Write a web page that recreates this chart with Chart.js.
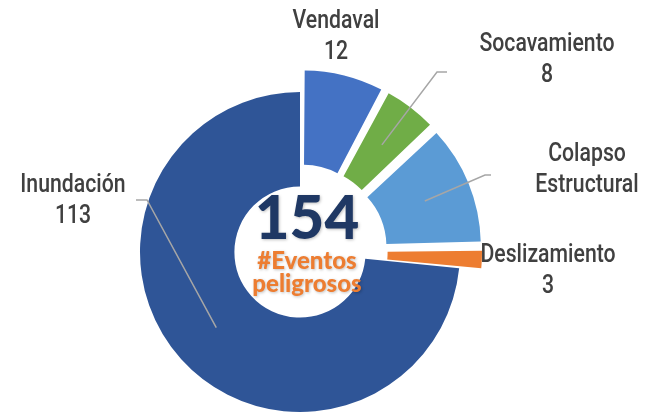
<!DOCTYPE html>
<html>
<head>
<meta charset="utf-8">
<script src="https://cdn.jsdelivr.net/npm/chart.js@4.4.1/dist/chart.umd.min.js"></script>
<style>
  body { margin: 0; background: #fff; }
  #wrap { width: 645px; height: 418px; }
</style>
</head>
<body>
<div id="wrap"><canvas id="graficoDona" width="645" height="418"></canvas></div>
<script>
// datos del grafico (orden horario desde las 12)
const categorias = ['Vendaval', 'Socavamiento', 'Colapso Estructural', 'Deslizamiento', 'Inundación']
const eventos = [12, 8, 18, 3, 113]
const colores = ['#4472C4', '#70AD47', '#5B9BD5', '#ED7D31', '#2F5597']
const totalEventos = 154
const textoCentro = ['#Eventos', 'peligrosos']

// separacion (px) de cada porcion
const separacion = [22, 22, 22, 22, 0]

// posicion de cada etiqueta respecto al centro del anillo
const etiquetasPos = [
  { lineas: ['Vendaval', '12'], x: 36, y: -230, linea: null },
  { lineas: ['Socavamiento', '8'], x: 247, y: -207, linea: [[137, -180], [147, -180]] },
  { lineas: ['Colapso', 'Estructural'], x: 287, y: -97, linea: [[185, -77], [191, -77]] },
  { lineas: ['Deslizamiento', '3'], x: 248, y: 4, linea: null },
  { lineas: ['Inundación', '113'], x: -227, y: -66, linea: [[-153, -52], [-164, -52]] }
]

// chart.js dibuja el offset como offset/4 * (2 - sin(angulo)), se invierte aqui
const suma = eventos.reduce((a, b) => a + b, 0)
const offsets = eventos.map((v, i) => {
  const c = v / suma * 2 * Math.PI
  return separacion[i] * 4 / (2 - Math.sin(Math.min(Math.PI, c)))
})

const fuenteEtiqueta = "500 25px Roboto, 'DejaVu Sans', sans-serif"
const estrechar = 0.85 // la fuente original es condensada

const pluginEtiquetas = {
  id: 'etiquetas',
  afterDraw(chart) {
    const ctx = chart.ctx
    const arcos = chart.getDatasetMeta(0).data
    const cx = arcos[0].x
    const cy = arcos[0].y
    ctx.save()
    arcos.forEach((arco, i) => {
      const p = arco.getProps(['startAngle', 'endAngle', 'innerRadius', 'outerRadius'])
      const medio = (p.startAngle + p.endAngle) / 2
      const off = separacion[i]
      const r = (p.innerRadius + p.outerRadius) / 2
      const pos = etiquetasPos[i]
      if (pos.linea) {
        const sx = cx + Math.cos(medio) * (r + off)
        const sy = cy + Math.sin(medio) * (r + off)
        ctx.strokeStyle = '#A6A6A6'
        ctx.lineWidth = 1.5
        ctx.beginPath()
        ctx.moveTo(sx, sy)
        pos.linea.forEach(pt => ctx.lineTo(cx + pt[0], cy + pt[1]))
        ctx.stroke()
      }
      ctx.fillStyle = '#404040'
      ctx.font = fuenteEtiqueta
      ctx.textAlign = 'center'
      ctx.textBaseline = 'middle'
      pos.lineas.forEach((t, k) => {
        ctx.save()
        ctx.translate(cx + pos.x, cy + pos.y + k * 31)
        ctx.scale(estrechar, 1)
        ctx.fillText(t, 0, 0)
        ctx.restore()
      })
    })

    // texto central
    ctx.shadowColor = 'rgba(0,0,0,0.25)'
    ctx.shadowBlur = 3
    ctx.shadowOffsetX = 1
    ctx.shadowOffsetY = 1
    ctx.fillStyle = '#1F3864'
    ctx.font = "900 60px Lato, 'DejaVu Sans', sans-serif"
    ctx.textAlign = 'center'
    ctx.textBaseline = 'alphabetic'
    ctx.fillText(String(totalEventos), cx + 7, cy - 13)
    ctx.fillStyle = '#ED7D31'
    ctx.font = "900 24px Lato, 'DejaVu Sans', sans-serif"
    ctx.fillText(textoCentro[0], cx + 7, cy + 17)
    ctx.fillText(textoCentro[1], cx + 7, cy + 40)
    ctx.restore()
  }
}

const dona = document.getElementById('graficoDona')

new Chart(dona, {
  type: 'doughnut',
  data: {
    labels: categorias,
    datasets: [
      {
        data: eventos,
        backgroundColor: colores,
        borderWidth: 0,
        offset: offsets,
        hoverOffset: 0
      }
    ]
  },
  options: {
    responsive: false,
    animation: false,
    radius: 160,
    cutout: '41%',
    layout: { padding: { left: 0, right: 45, top: 86, bottom: 0 } },
    plugins: {
      legend: { display: false },
      tooltip: { enabled: false }
    }
  },
  plugins: [pluginEtiquetas]
})
</script>
</body>
</html>
